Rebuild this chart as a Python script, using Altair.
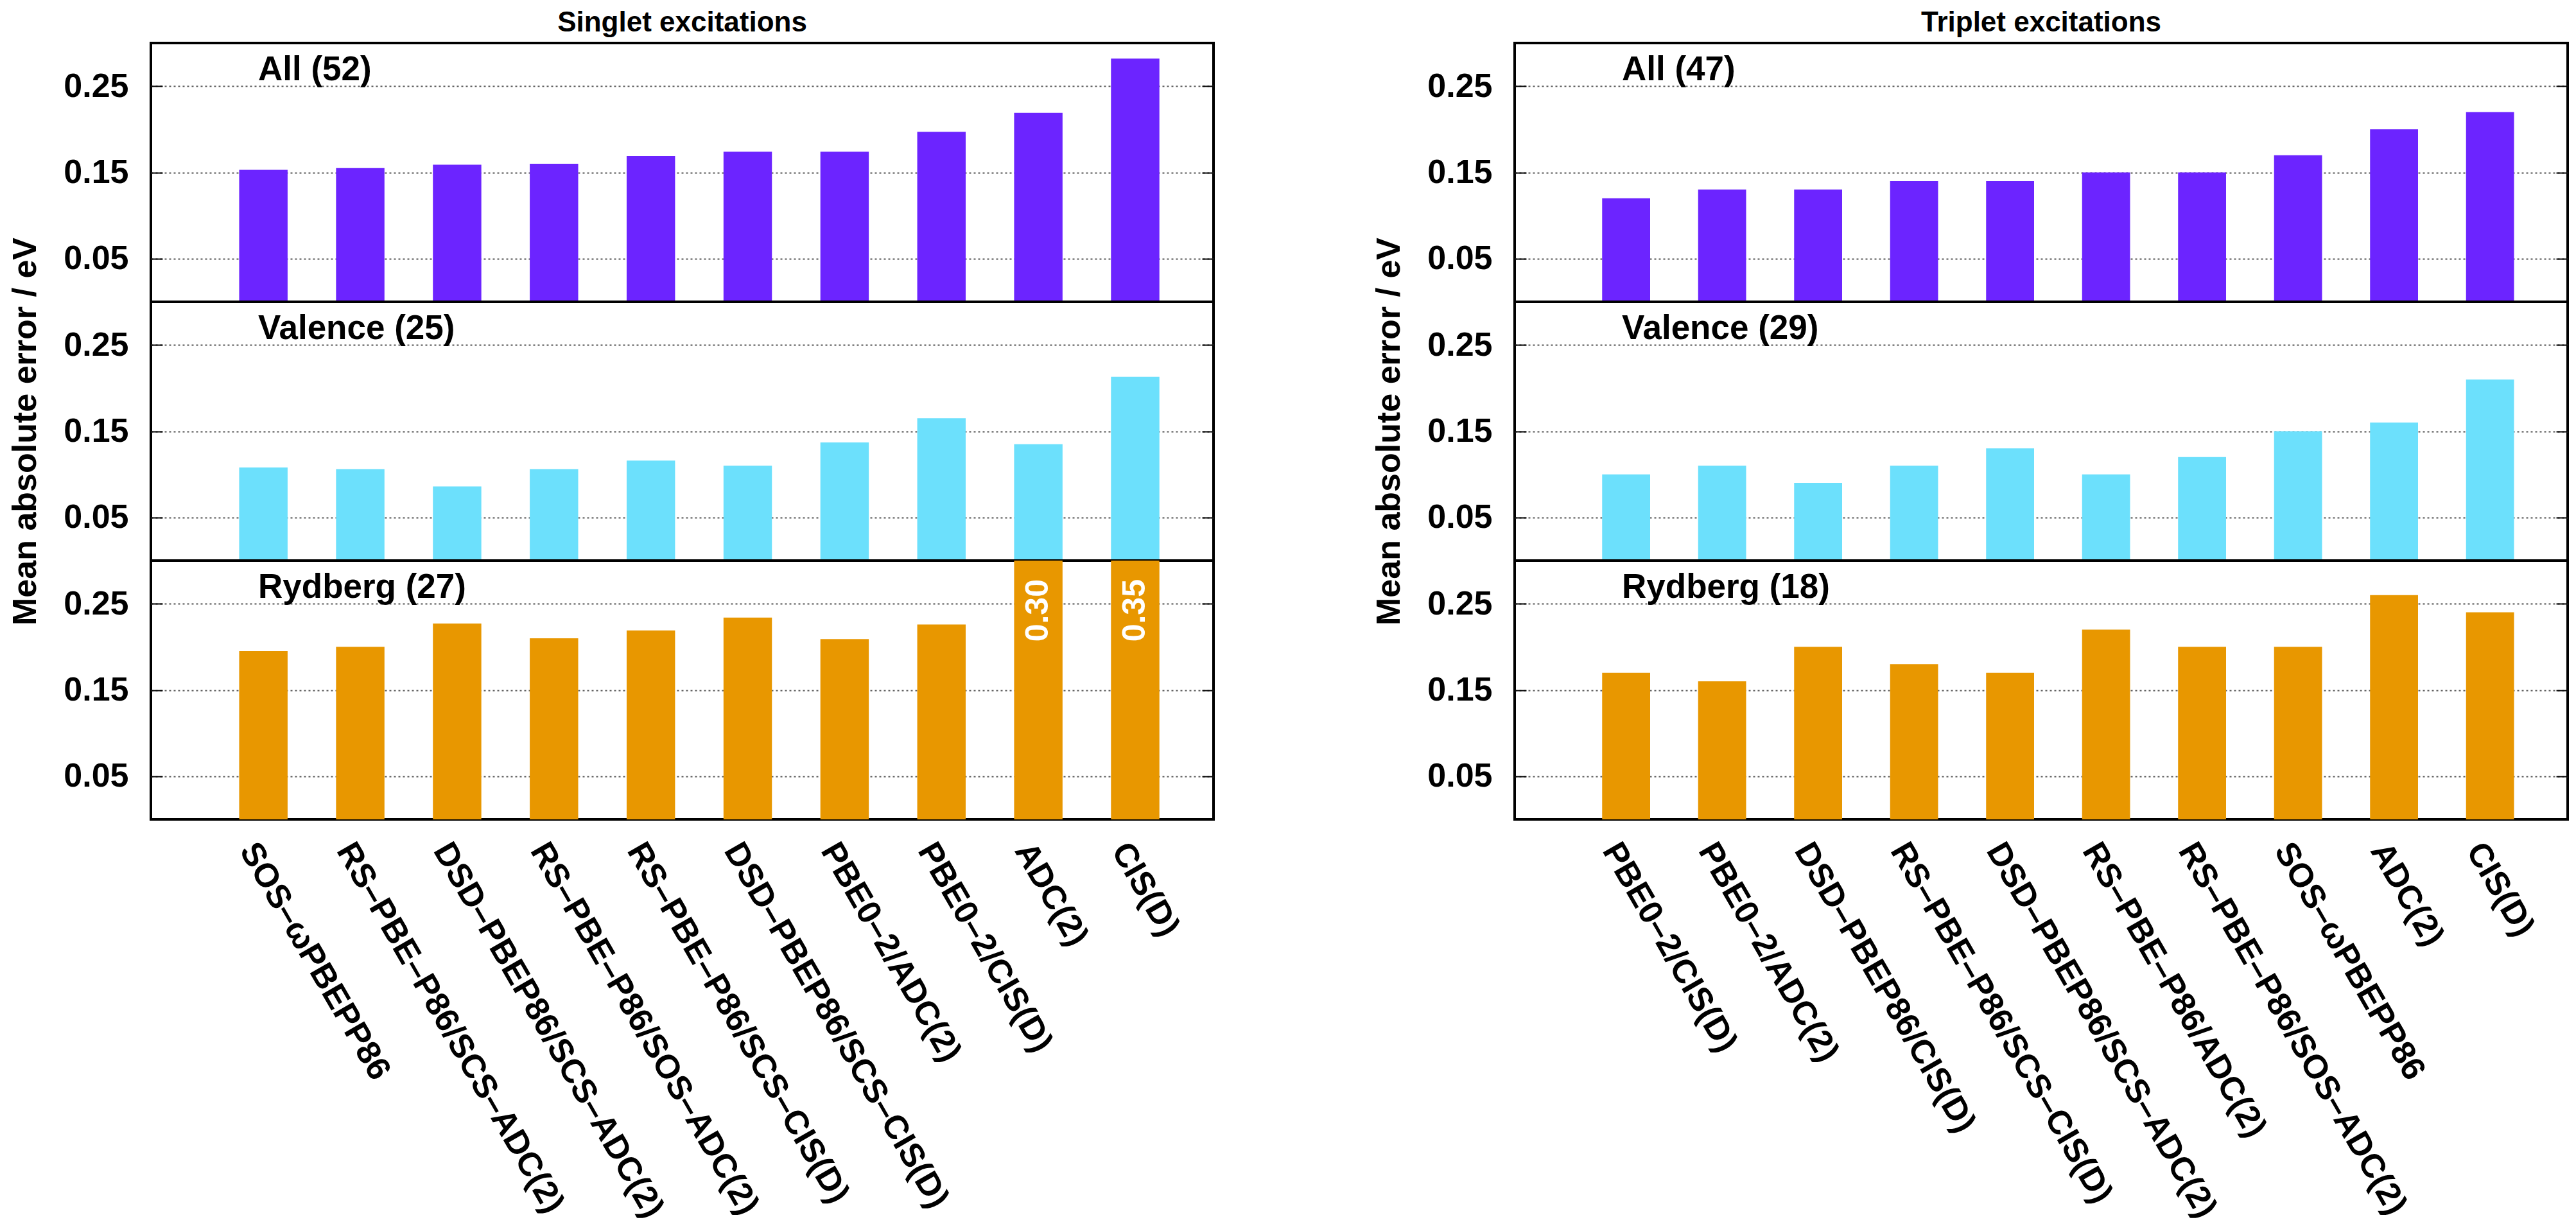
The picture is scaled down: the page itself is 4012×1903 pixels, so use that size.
import altair as alt
import pandas as pd

FONT = "Liberation Sans"

# ---- data ----
singlet_methods = ["SOS–ωPBEPP86", "RS–PBE–P86/SCS–ADC(2)", "DSD–PBEP86/SCS–ADC(2)",
                   "RS–PBE–P86/SOS–ADC(2)", "RS–PBE–P86/SCS–CIS(D)", "DSD–PBEP86/SCS–CIS(D)",
                   "PBE0–2/ADC(2)", "PBE0–2/CIS(D)", "ADC(2)", "CIS(D)"]
singlet_all = [0.153, 0.155, 0.159, 0.160, 0.169, 0.174, 0.174, 0.197, 0.219, 0.282]
singlet_valence = [0.108, 0.106, 0.086, 0.106, 0.116, 0.110, 0.137, 0.165, 0.135, 0.213]
singlet_rydberg = [0.195, 0.200, 0.227, 0.210, 0.219, 0.234, 0.209, 0.226, 0.30, 0.35]

triplet_methods = ["PBE0–2/CIS(D)", "PBE0–2/ADC(2)", "DSD–PBEP86/CIS(D)",
                   "RS–PBE–P86/SCS–CIS(D)", "DSD–PBEP86/SCS–ADC(2)", "RS–PBE–P86/ADC(2)",
                   "RS–PBE–P86/SOS–ADC(2)", "SOS–ωPBEPP86", "ADC(2)", "CIS(D)"]
triplet_all = [0.12, 0.13, 0.13, 0.14, 0.14, 0.15, 0.15, 0.17, 0.20, 0.22]
triplet_valence = [0.10, 0.11, 0.09, 0.11, 0.13, 0.10, 0.12, 0.15, 0.16, 0.21]
triplet_rydberg = [0.17, 0.16, 0.20, 0.18, 0.17, 0.22, 0.20, 0.20, 0.26, 0.24]

panel_labels_singlet = ["All (52)", "Valence (25)", "Rydberg (27)"]
panel_labels_triplet = ["All (47)", "Valence (29)", "Rydberg (18)"]
column_titles = ["Singlet excitations", "Triplet excitations"]
y_title = "Mean absolute error / eV"
y_ticks = [0.05, 0.15, 0.25]
y_max = 0.3

COL_ALL = "#6c24ff"
COL_VAL = "#6ce0fc"
COL_RYD = "#e89700"

PANEL_H = 403


def panel(methods, values, color, label, width, bottom=False, ytitle=None, title=None,
          show_values=False):
    df = pd.DataFrame({"method": methods, "value": values})
    xs = alt.Scale(domain=methods, paddingInner=0.5, paddingOuter=0.735, align=0.62)
    ys = alt.Scale(domain=[0, y_max], clamp=True, nice=False, zero=False)
    if bottom:
        xaxis = alt.Axis(title=None, labelAngle=60, labelAlign="left", labelBaseline="middle",
                         labelFont=FONT, labelFontSize=52, labelFontWeight="bold",
                         labelColor="black", labelPadding=40, labelOffset=-24,
                         labelLimit=3000, ticks=False, tickSize=0, domain=False,
                         grid=False, labelOverlap=False)
    else:
        xaxis = None
    yaxis_kw = dict(values=y_ticks, format=".2f", orient="left", offset=-18, tickSize=18,
                    tickWidth=2, tickColor="black", domain=False, labelFont=FONT,
                    labelFontSize=52, labelFontWeight="bold", labelColor="black",
                    labelPadding=35, grid=True, gridColor="#555555", gridDash=[3, 4],
                    gridWidth=2)
    if ytitle:
        yaxis_kw.update(title=ytitle, titleFont=FONT, titleFontSize=52, titleFontWeight="bold",
                        titleColor="black", titlePadding=32, titleLimit=3000)
    else:
        yaxis_kw.update(title=None)

    xenc = alt.X("method:N", scale=xs, sort=methods, axis=xaxis)
    bars = alt.Chart(df).mark_bar(color=color, clip=True).encode(
        x=xenc,
        y=alt.Y("value:Q", scale=ys, axis=alt.Axis(**yaxis_kw)),
    )
    right = alt.Chart(df).mark_point(opacity=0).encode(
        x=xenc,
        y=alt.Y("value:Q", scale=ys,
                axis=alt.Axis(orient="right", values=y_ticks, offset=-18, tickSize=18,
                              tickWidth=2, tickColor="black", labels=False, domain=False,
                              grid=False, title=None)),
    )
    lab = alt.Chart(pd.DataFrame({"label": [label]})).mark_text(
        align="left", baseline="alphabetic", font=FONT, fontSize=53, fontWeight="bold",
        color="black").encode(x=alt.value(167), y=alt.value(58), text="label:N")
    layers = [bars, right, lab]
    if show_values:
        vals = alt.Chart(df).transform_filter(alt.datum.value >= y_max).mark_text(
            angle=270, align="right", baseline="middle", yOffset=29, font=FONT,
            fontSize=50, fontWeight="bold", color="white").encode(
            x=xenc,
            y=alt.Y("value:Q", scale=ys, axis=None),
            text=alt.Text("value:Q", format=".2f"))
        layers.append(vals)
    props = dict(width=width, height=PANEL_H)
    if title:
        props["title"] = alt.TitleParams(text=title, font=FONT, fontSize=44, fontWeight="bold",
                                         color="black", anchor="middle", frame="group",
                                         offset=9)
    return alt.layer(*layers).resolve_axis(y="independent").properties(**props)


def column(methods, a, v, r, labels, width, title, show_values):
    return alt.vconcat(
        panel(methods, a, COL_ALL, labels[0], width, title=title),
        panel(methods, v, COL_VAL, labels[1], width, ytitle=y_title),
        panel(methods, r, COL_RYD, labels[2], width, bottom=True, show_values=show_values),
        spacing=0, bounds="flush",
    )


singlet = column(singlet_methods, singlet_all, singlet_valence, singlet_rydberg,
                 panel_labels_singlet, 1655, column_titles[0], True)
triplet = column(triplet_methods, triplet_all, triplet_valence, triplet_rydberg,
                 panel_labels_triplet, 1640, column_titles[1], False)

chart = alt.hconcat(singlet, triplet, spacing=242).properties(
    padding={"left": 3, "top": 4, "right": 0, "bottom": 0}, background="white"
).configure_view(stroke="black", strokeWidth=4)

chart.save("out.html", embed_options={"renderer": "svg", "actions": False})
